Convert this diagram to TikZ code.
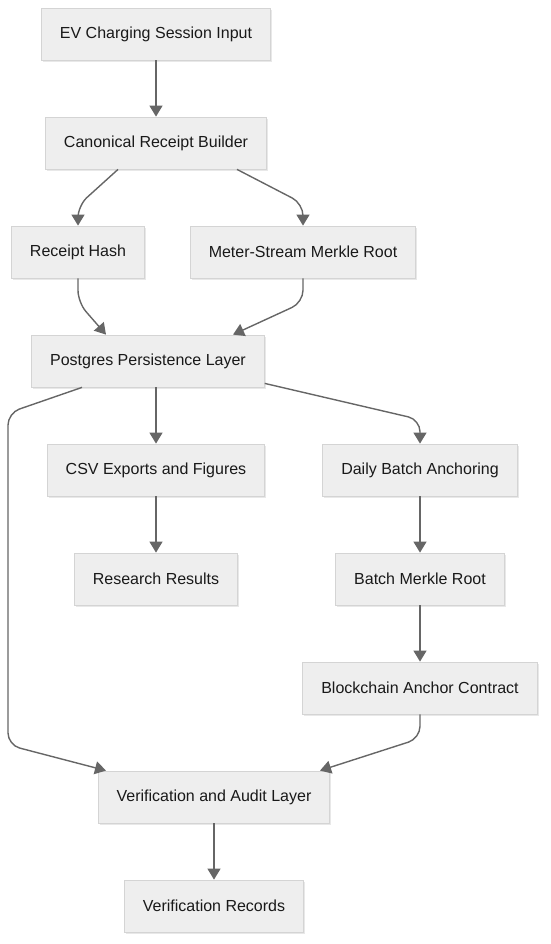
\documentclass[tikz,border=0pt]{standalone}
\usepackage{fontspec}
\setmainfont{Liberation Sans}
\usepackage{xcolor}
\usepackage{tikz}
\usetikzlibrary{positioning, arrows.meta, shadows}
\definecolor{boxfill}{HTML}{EEEEEE}
\definecolor{boxline}{HTML}{D4D4D4}
\definecolor{flowgray}{HTML}{666666}

\begin{document}
\begin{tikzpicture}[x=1pt, y=1pt, >={Triangle[width=13pt, length=11pt]},
    block/.style={draw=boxline, fill=boxfill, line width=0.8pt, minimum height=52pt, inner xsep=18.5pt,
                  font=\fontsize{16}{19}\selectfont, text=black!90,
                  drop shadow={shadow xshift=1.5pt, shadow yshift=-2pt, opacity=0.18}},
    flow/.style={->, draw=flowgray, line width=1.4pt, rounded corners=12pt}]
    \useasboundingbox (0,0) rectangle (550,-944);

    \node[block] (ev)  at (156,-34)  {EV Charging Session Input};
    \node[block] (crb) at (156,-143) {Canonical Receipt Builder};
    \node[block] (rh)  at (78,-252)  {Receipt Hash};
    \node[block] (msm) at (303,-252) {Meter-Stream Merkle Root};
    \node[block] (pg)  at (148,-361) {Postgres Persistence Layer};
    \node[block] (csv) at (156,-470) {CSV Exports and Figures};
    \node[block] (dba) at (420,-470) {Daily Batch Anchoring};
    \node[block] (rr)  at (156,-579) {Research Results};
    \node[block] (bmr) at (420,-579) {Batch Merkle Root};
    \node[block] (bac) at (420,-688) {Blockchain Anchor Contract};
    \node[block] (val) at (214,-797) {Verification and Audit Layer};
    \node[block] (vr)  at (214,-906) {Verification Records};

    \draw[flow] (ev) -- (crb);
    \draw[flow] ([xshift=-38pt]crb.south) -- ([yshift=20pt]rh.north) -- (rh.north);
    \draw[flow] ([xshift=81pt]crb.south) -- ([yshift=22pt]msm.north) -- (msm.north);
    \draw[flow] (rh.south) -- ([yshift=-24pt]rh.south) -- ([xshift=-42pt]pg.north);
    \draw[flow] (msm.south) -- ([yshift=-24pt]msm.south) -- ([xshift=85pt]pg.north);
    \draw[flow] ([xshift=-66pt]pg.south) -- (8,-413) -- (8,-745) -- ([xshift=-108pt]val.north);
    \draw[flow] (csv.north |- pg.south) -- (csv.north);
    \draw[flow] ([yshift=4pt]pg.south east) -- ([yshift=24pt]dba.north) -- (dba.north);
    \draw[flow] (csv) -- (rr);
    \draw[flow] (dba) -- (bmr);
    \draw[flow] (bmr) -- (bac);
    \draw[flow] (bac.south) -- ([yshift=-24pt]bac.south) -- ([xshift=106pt]val.north);
    \draw[flow] (val) -- (vr);
\end{tikzpicture}
\end{document}
